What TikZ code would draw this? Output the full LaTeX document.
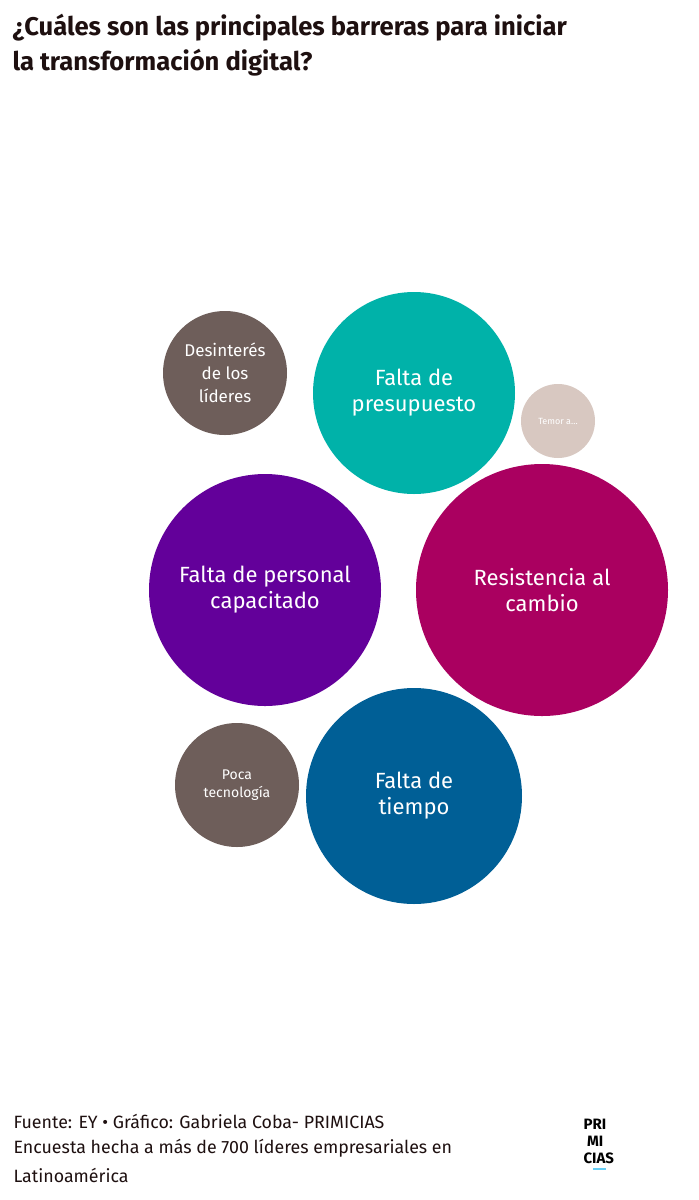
\documentclass[tikz,border=0pt]{standalone}
\usepackage{fontspec}
\setmainfont{Fira Sans}
\definecolor{brn}{HTML}{6E5E5A}
\definecolor{teal}{HTML}{00B2A9}
\definecolor{beig}{HTML}{D8C8C1}
\definecolor{purp}{HTML}{63009A}
\definecolor{mag}{HTML}{AA0060}
\definecolor{blu}{HTML}{005F96}
\definecolor{ttl}{HTML}{1E1010}
\begin{document}
\begin{tikzpicture}[x=1pt,y=-1pt,
 bub/.style n args={2}{circle,inner sep=0pt,text=white,align=center,font=\fontsize{#1}{#2}\selectfont},
 foot/.style={anchor=west,font=\fontsize{17.8}{20}\selectfont,text=ttl}]
\useasboundingbox[fill=white] (0,0) rectangle (699,1200);
\node[anchor=north west,align=left,text=ttl,font=\bfseries\fontsize{25.6}{35}\selectfont] (t) at (9,11) {¿Cuáles son las principales barreras para iniciar\\la transformación digital?};
\node[bub={17}{23},fill=brn,minimum size=124pt] (a) at (225,373) {Desinterés\\de los\\líderes};
\node[bub={22}{26},fill=teal,minimum size=202pt] (b) at (414,393) {Falta de\\presupuesto};
\node[bub={9}{11},fill=beig,minimum size=74pt] (c) at (558,421) {Temor a…};
\node[bub={22}{26},fill=purp,minimum size=232pt] (d) at (265,590) {Falta de personal\\capacitado};
\node[bub={22}{26},fill=mag,minimum size=252pt] (e) at (542,590) {Resistencia al\\cambio};
\node[bub={14}{18},fill=brn,minimum size=124pt] (f) at (237,785) {Poca\\tecnología};
\node[bub={22}{26},fill=blu,minimum size=216pt] (g) at (414,796) {Falta de\\tiempo};
\node[foot] (f1) at (10,1121) {Fuente: EY • Gráfico: Gabriela Coba- PRIMICIAS};
\node[foot] (f2) at (10,1148) {Encuesta hecha a más de 700 líderes empresariales en};
\node[foot] (f3) at (10,1175) {Latinoamérica};
\node[anchor=north west,align=left,font=\bfseries\fontsize{15}{17}\selectfont] (logo) at (580,1116) {PRI\\\ MI\\CIAS};
\coordinate (u1) at (593,1169);
\coordinate (u2) at (606,1169);
\draw[cyan!60,line width=2pt] (u1) -- (u2);
\end{tikzpicture}
\end{document}
